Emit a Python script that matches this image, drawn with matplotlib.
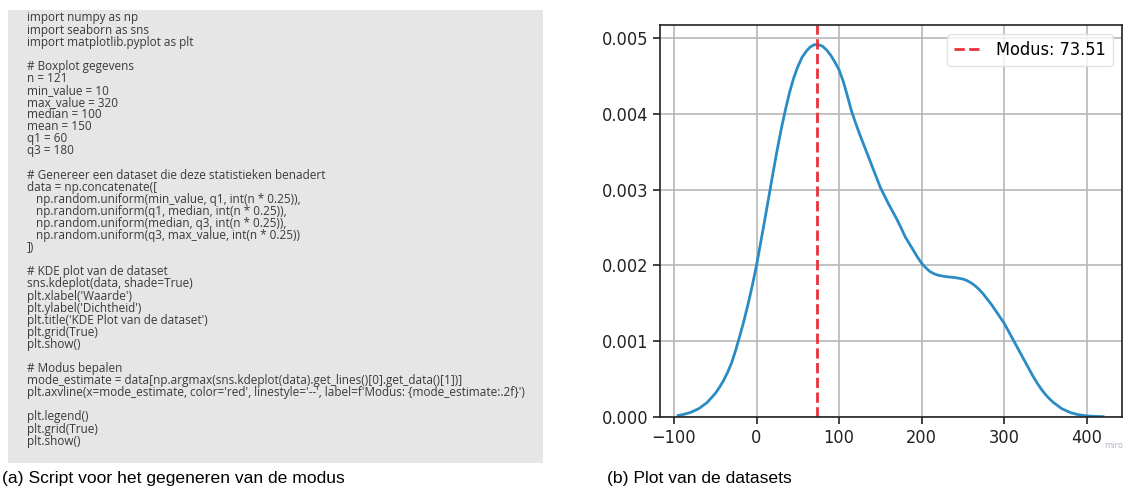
import matplotlib.pyplot as plt
import matplotlib.patches as patches
from matplotlib import font_manager

# KDE curve, values
kde_x = [-95, -90, -80, -70, -65, -60, -55, -50, -45, -40, -35, -30, -25, -20, -15, -10, -5,
         0, 5, 10, 15, 20, 25, 30, 35, 40, 45, 50, 55, 60, 65, 70, 75, 80, 85, 90, 95,
         100, 105, 110, 115, 120, 125, 130, 135, 140, 145, 150, 155, 160, 165, 170, 175,
         180, 185, 190, 195, 200, 205, 210, 215, 220, 230, 240, 250, 255, 260, 265, 270,
         275, 280, 285, 290, 295, 300, 305, 310, 315, 320, 325, 330, 335, 340, 345, 350,
         355, 360, 370, 380, 390, 400, 410, 420]
kde_y = [0.00002, 0.00003, 0.00006, 0.00011, 0.00015, 0.00019, 0.00025, 0.00031, 0.00039,
         0.00048, 0.00059, 0.00072, 0.00089, 0.00108, 0.00128, 0.00150, 0.00174,
         0.00200, 0.00230, 0.00260, 0.00291, 0.00322, 0.00352, 0.00380, 0.00405, 0.00428,
         0.00447, 0.00462, 0.00474, 0.00482, 0.00488, 0.00491, 0.00491, 0.00489, 0.00484,
         0.00477, 0.00468,
         0.00458, 0.00443, 0.00424, 0.00404, 0.00388, 0.00373, 0.00359, 0.00345, 0.00331,
         0.00317, 0.00303, 0.00292, 0.00281, 0.00271, 0.00261, 0.00250,
         0.00238, 0.00229, 0.00220, 0.00211, 0.00203, 0.00197, 0.00192, 0.00189, 0.00187,
         0.00185, 0.00184, 0.00182, 0.00180, 0.00177, 0.00173, 0.00168,
         0.00162, 0.00155, 0.00148, 0.00140, 0.00132, 0.00124, 0.00114, 0.00104, 0.00094,
         0.00084, 0.00074, 0.00064, 0.00054, 0.00045, 0.00037, 0.00030,
         0.00024, 0.00019, 0.00011, 0.00006, 0.00003, 0.000015, 0.000008, 0.000005]
mode_value = 73.51
x_ticks = [-100, 0, 100, 200, 300, 400]
y_ticks = [0.000, 0.001, 0.002, 0.003, 0.004, 0.005]

code_lines = [
    "import numpy as np",
    "import seaborn as sns",
    "import matplotlib.pyplot as plt",
    "",
    "# Boxplot gegevens",
    "n = 121",
    "min_value = 10",
    "max_value = 320",
    "median = 100",
    "mean = 150",
    "q1 = 60",
    "q3 = 180",
    "",
    "# Genereer een dataset die deze statistieken benadert",
    "data = np.concatenate([",
    "   np.random.uniform(min_value, q1, int(n * 0.25)),",
    "   np.random.uniform(q1, median, int(n * 0.25)),",
    "   np.random.uniform(median, q3, int(n * 0.25)),",
    "   np.random.uniform(q3, max_value, int(n * 0.25))",
    "])",
    "",
    "# KDE plot van de dataset",
    "sns.kdeplot(data, shade=True)",
    "plt.xlabel('Waarde')",
    "plt.ylabel('Dichtheid')",
    "plt.title('KDE Plot van de dataset')",
    "plt.grid(True)",
    "plt.show()",
    "",
    "# Modus bepalen",
    "mode_estimate = data[np.argmax(sns.kdeplot(data).get_lines()[0].get_data()[1])]",
    "plt.axvline(x=mode_estimate, color='red', linestyle='--', label=f'Modus: {mode_estimate:.2f}')",
    "",
    "plt.legend()",
    "plt.grid(True)",
    "plt.show()",
]


# plot labels in the picture use a narrow sans; look for a condensed face
def narrow_font(size):
    for f in font_manager.fontManager.ttflist:
        fn = f.fname.lower()
        if 'dejavusanscondensed.ttf' in fn.replace('-', '').replace('_', ''):
            return font_manager.FontProperties(fname=f.fname, size=size)
    for f in font_manager.fontManager.ttflist:
        if f.name == 'Liberation Sans Narrow' and f.weight in (400, 'normal') and f.style == 'normal':
            return font_manager.FontProperties(fname=f.fname, size=size + 0.5)
    return font_manager.FontProperties(family='DejaVu Sans', size=size - 1)


W, H = 1129, 497
fig = plt.figure(figsize=(W / 100, H / 100), dpi=100)

# left panel: grey box with the script
box = patches.Rectangle((8 / W, 1 - 463 / H), (543 - 8) / W, (463 - 10) / H,
                        transform=fig.transFigure, facecolor='#e6e6e6', edgecolor='none')
fig.patches.append(box)
y0, step = 18, 12.09
for i, line in enumerate(code_lines):
    if line:
        fig.text(27 / W, 1 - (y0 + i * step) / H, line, fontsize=8.5, family='Open Sans',
                 color='#3a3a3a', va='center', ha='left')

fig.text(2 / W, 1 - 479 / H, "(a) Script voor het gegeneren van de modus", fontsize=12.6,
         family='Liberation Sans', va='center', ha='left')
fig.text(607 / W, 1 - 479 / H, "(b) Plot van de datasets", fontsize=12.6,
         family='Liberation Sans', va='center', ha='left')

# right panel: KDE plot
fp = narrow_font(13)
ax = fig.add_axes([660 / W, 1 - 417 / H, (1122 - 660) / W, (417 - 25) / H])
ax.plot(kde_x, kde_y, color='#2a8cc4', lw=2)
ax.axvline(x=mode_value, color='#e8323c', linestyle='--', lw=2, label=f'Modus: {mode_value:.2f}')
ax.set_xlim(-117, 443)
ax.set_ylim(0, 0.00517)
ax.set_xticks(x_ticks)
ax.set_yticks(y_ticks)
ax.set_yticklabels([f'{v:.3f}' for v in y_ticks])
ax.set_xticklabels(['\u2212100', '0', '100', '200', '300', '400'])
for lab in ax.get_xticklabels() + ax.get_yticklabels():
    lab.set_fontproperties(fp)
ax.tick_params(colors='#222222', length=5, width=1.2)
ax.grid(True, color='#b8b8b8', lw=1.2)
for s in ax.spines.values():
    s.set_color('#222222')
    s.set_linewidth(1.2)
ax.legend(loc='upper right', prop=fp, framealpha=0.8, edgecolor='#dddddd',
          handlelength=1.5)

fig.text(1104 / W, 1 - 445 / H, "miro", fontsize=6, color='#b9b4cc', va='center', ha='left')

fig.savefig('out.png', dpi=100)
